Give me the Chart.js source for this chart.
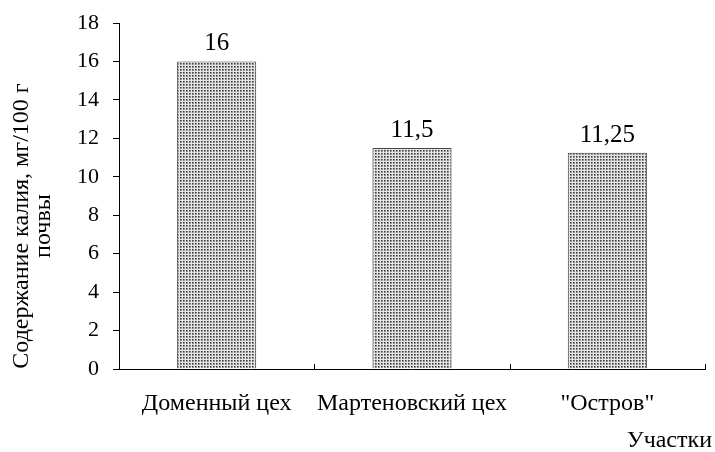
<!DOCTYPE html>
<html>
<head>
<meta charset="utf-8">
<script src="https://cdn.jsdelivr.net/npm/chart.js@4/dist/chart.umd.min.js"></script>
<style>
  html, body { margin: 0; padding: 0; background: #fff; }
  #wrap { width: 715px; height: 452px; }
</style>
</head>
<body>
<div id="wrap"><canvas id="chart"></canvas></div>
<script>
// данные с графика
const categories = ['Доменный цех', 'Мартеновский цех', '"Остров"'];
const values = [16, 11.5, 11.25];
const yTitleLines = ['Содержание калия, мг/100 г', 'почвы'];
const xTitle = 'Участки';

const fontFamily = '"Liberation Serif", "Times New Roman", serif';

// точечная заливка столбцов
function makePattern() {
  let c = document.createElement('canvas');
  c.width = 3;
  c.height = 3;
  let ctx = c.getContext('2d');
  ctx.fillStyle = '#e4e4e4';
  ctx.fillRect(0, 0, 3, 3);
  ctx.fillStyle = '#3a3a3a';
  ctx.fillRect(0, 0, 1, 1);
  ctx.fillStyle = '#808080';
  ctx.fillRect(1, 0, 1, 1);
  ctx.fillRect(0, 1, 1, 1);
  ctx.fillStyle = '#a0a0a0';
  ctx.fillRect(1, 1, 1, 1);
  return ctx.createPattern(c, 'repeat');
}

// подписи значений над столбцами (с запятой)
const valueLabels = {
  id: 'valueLabels',
  afterDatasetsDraw(chart) {
    let ctx = chart.ctx;
    let meta = chart.getDatasetMeta(0);
    ctx.save();
    ctx.font = '25px ' + fontFamily;
    ctx.fillStyle = '#000';
    ctx.textAlign = 'center';
    ctx.textBaseline = 'alphabetic';
    meta.data.forEach((bar, i) => {
      let txt = String(values[i]).replace('.', ',');
      ctx.fillText(txt, bar.x, bar.y - 11);
    });
    ctx.restore();
  }
};

// короткие засечки на оси X между категориями (внутрь)
const xTicksInside = {
  id: 'xTicksInside',
  afterDraw(chart) {
    let ctx = chart.ctx;
    let x = chart.scales.x;
    let bottom = chart.chartArea.bottom;
    ctx.save();
    ctx.strokeStyle = '#000';
    ctx.lineWidth = 1;
    for (let i = 0; i <= categories.length; i++) {
      let px = Math.round(x.getPixelForValue(i - 0.5)) + 0.5;
      ctx.beginPath();
      ctx.moveTo(px, bottom);
      ctx.lineTo(px, bottom - 5);
      ctx.stroke();
    }
    ctx.restore();
  }
};

// подписи осей
const axisTitles = {
  id: 'axisTitles',
  afterDraw(chart) {
    let ctx = chart.ctx;
    ctx.save();
    ctx.font = '24px ' + fontFamily;
    ctx.fillStyle = '#000';
    ctx.textAlign = 'center';
    ctx.textBaseline = 'middle';
    ctx.translate(0, 226);
    ctx.rotate(-Math.PI / 2);
    ctx.fillText(yTitleLines[0], 0, 22);
    ctx.fillText(yTitleLines[1], 0, 44);
    ctx.restore();

    ctx.save();
    ctx.font = '24px ' + fontFamily;
    ctx.fillStyle = '#000';
    ctx.textAlign = 'right';
    ctx.textBaseline = 'middle';
    ctx.fillText(xTitle, chart.width - 3, 441);
    ctx.restore();
  }
};

const config = {
  type: 'bar',
  data: {
    labels: categories,
    datasets: [{
      data: values,
      backgroundColor: makePattern(),
      borderColor: '#444',
      borderWidth: 1,
      categoryPercentage: 1,
      barPercentage: 0.405
    }]
  },
  options: {
    responsive: true,
    maintainAspectRatio: false,
    animation: false,
    layout: { padding: { left: 0, right: 10, top: 23, bottom: 0 } },
    plugins: {
      legend: { display: false },
      tooltip: { enabled: false }
    },
    scales: {
      x: {
        afterFit(scale) { scale.height = 83; },
        grid: { display: false, drawTicks: false },
        border: { color: '#000', width: 1 },
        ticks: {
          color: '#000',
          font: { family: fontFamily, size: 24 },
          padding: 20,
          maxRotation: 0
        }
      },
      y: {
        min: 0,
        max: 18,
        afterFit(scale) {
          scale.width = 119;
          scale.paddingTop = 0;
          scale.paddingBottom = 0;
        },
        grid: { drawOnChartArea: false, drawTicks: true, tickLength: 6, color: '#000' },
        border: { color: '#000', width: 1 },
        ticks: {
          stepSize: 2,
          color: '#000',
          padding: 14,
          font: { family: fontFamily, size: 22 }
        }
      }
    }
  },
  plugins: [valueLabels, xTicksInside, axisTitles]
};

new Chart(document.getElementById('chart'), config);
</script>
</body>
</html>
